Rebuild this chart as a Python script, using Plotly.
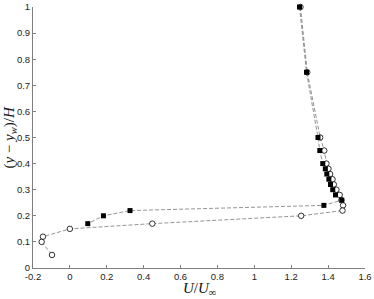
import plotly.graph_objects as go

# filled squares series
sq_u = [1.245, 1.283, 1.345, 1.355, 1.371, 1.385, 1.393, 1.404, 1.413, 1.425, 1.44, 1.474, 1.377, 0.326, 0.182, 0.097]
sq_y = [1.0, 0.75, 0.50, 0.45, 0.40, 0.38, 0.36, 0.34, 0.32, 0.30, 0.28, 0.26, 0.24, 0.22, 0.20, 0.17]

# open circles series
ci_u = [1.25, 1.287, 1.357, 1.379, 1.391, 1.402, 1.411, 1.424, 1.431, 1.445, 1.463, 1.472, 1.481, 1.478, 1.254, 0.447, 0.0, -0.146, -0.153, -0.097]
ci_y = [1.0, 0.75, 0.50, 0.45, 0.40, 0.38, 0.36, 0.34, 0.32, 0.30, 0.28, 0.26, 0.24, 0.22, 0.20, 0.17, 0.15, 0.12, 0.10, 0.05]

x_ticks = [-0.2, 0, 0.2, 0.4, 0.6, 0.8, 1, 1.2, 1.4, 1.6]
x_labels = ["-0.2", "0", "0.2", "0.4", "0.6", "0.8", "1", "1.2", "1.4", "1.6"]
y_ticks = [0, 0.1, 0.2, 0.3, 0.4, 0.5, 0.6, 0.7, 0.8, 0.9, 1]
y_labels = ["0", "0.1", "0.2", "0.3", "0.4", "0.5", "0.6", "0.7", "0.8", "0.9", "1"]

line_style = dict(color="#666666", width=0.7, dash="4px,2px")

fig = go.Figure()
fig.add_trace(go.Scatter(
    x=ci_u, y=ci_y, mode="lines+markers", line=line_style,
    marker=dict(symbol="circle", size=5.5, color="white", line=dict(color="black", width=0.8)),
    showlegend=False, cliponaxis=False))
fig.add_trace(go.Scatter(
    x=sq_u, y=sq_y, mode="lines+markers", line=line_style,
    marker=dict(symbol="square", size=5, color="black", line=dict(width=0)),
    showlegend=False, cliponaxis=False))

axis_common = dict(showgrid=False, zeroline=False, showline=True, linecolor="#7f7f7f",
                   linewidth=1, ticks="inside", ticklen=3, tickcolor="#7f7f7f",
                   tickfont=dict(family="Liberation Sans, Arial", size=9.5, color="#222"),
                   ticklabelstandoff=0, mirror=False, automargin=False)

fig.update_layout(
    width=374, height=299,
    margin=dict(l=33, r=9, t=7, b=31),
    paper_bgcolor="white", plot_bgcolor="white",
    xaxis=dict(range=[-0.2, 1.6], tickvals=x_ticks, ticktext=x_labels, **axis_common),
    yaxis=dict(range=[0, 1], tickvals=y_ticks, ticktext=y_labels, **axis_common),
)

fig.add_annotation(
    text="<i>U</i>/<i>U</i><sub>∞</sub>", xref="paper", yref="paper",
    x=0.5, y=-0.081, xanchor="center", yanchor="middle", showarrow=False,
    font=dict(family="Liberation Serif, DejaVu Serif", size=15, color="#111"))
fig.add_annotation(
    text="(<i>y</i> − <i>y</i><sub><i>w</i></sub>)/<i>H</i>", xref="paper", yref="paper",
    x=-0.072, y=0.5, xanchor="center", yanchor="middle", showarrow=False, textangle=-90,
    font=dict(family="Liberation Serif, DejaVu Serif", size=15, color="#111"))

fig.write_html("out.html", config={"displayModeBar": False},
               post_script="document.body.style.margin='0';document.body.style.overflow='hidden';")
